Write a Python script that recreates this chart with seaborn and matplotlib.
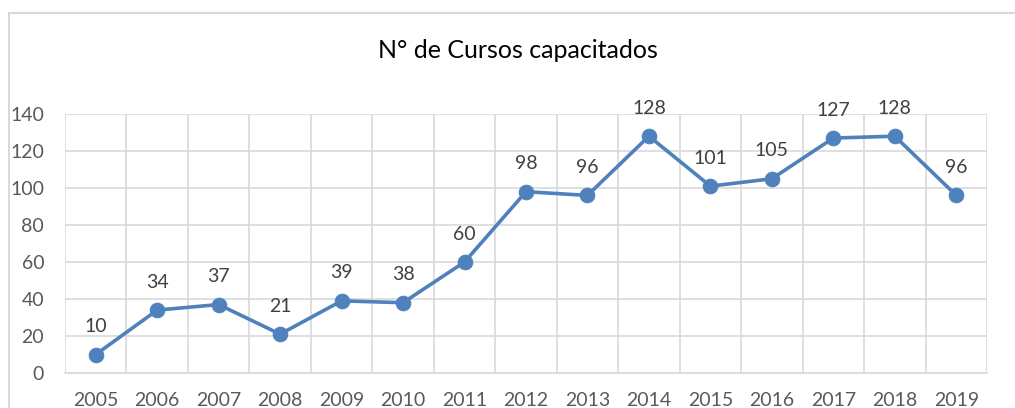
import matplotlib
matplotlib.use("Agg")
import matplotlib.pyplot as plt
import seaborn as sns
import pandas as pd
from matplotlib.patches import Rectangle

years = ["2005", "2006", "2007", "2008", "2009", "2010", "2011", "2012",
         "2013", "2014", "2015", "2016", "2017", "2018", "2019"]
cursos = [10, 34, 37, 21, 39, 38, 60, 98, 96, 128, 101, 105, 127, 128, 96]
title = "N° de Cursos capacitados"

sns.set_theme(style="white")
plt.rcParams['font.family'] = ['Lato', 'DejaVu Sans']

df = pd.DataFrame({"year": years, "cursos": cursos})
df["pos"] = range(len(years))

fig = plt.figure(figsize=(10.15, 4.08), dpi=100)
ax = fig.add_axes([65/1015, 1-373/408, (987-65)/1015, (373-114)/408])

line_color = "#4F81BD"
text_color = "#595959"
grid_color = "#D9D9D9"

sns.lineplot(data=df, x="pos", y="cursos", ax=ax, color=line_color,
             linewidth=2.6, marker="o", markersize=10.5,
             markeredgecolor=line_color, zorder=3)

for i, v in enumerate(cursos):
    ax.annotate(str(v), (i, v), xytext=(0, 14), textcoords="offset points",
                ha="center", va="bottom", fontsize=14, color="#404040")

ax.set_xlim(-0.5, len(years) - 0.5)
ax.set_ylim(0, 140)
ax.set_yticks(range(0, 141, 20))
ax.set_xticks(range(len(years)))
ax.set_xticklabels(years)
ax.set_xticks([i - 0.5 for i in range(len(years) + 1)], minor=True)
ax.grid(False)
ax.grid(axis="y", which="major", color=grid_color, linewidth=1.2)
ax.grid(axis="x", which="minor", color=grid_color, linewidth=1.2)
ax.tick_params(axis="both", which="both", length=0, labelsize=14,
               colors=text_color)
ax.tick_params(axis="x", pad=14)
ax.tick_params(axis="y", pad=15)
ax.set_xlabel("")
ax.set_ylabel("")
for s in ax.spines.values():
    s.set_visible(False)
ax.spines["bottom"].set_visible(True)
ax.spines["bottom"].set_color(grid_color)
ax.spines["bottom"].set_linewidth(1.2)

fig.text(518/1015, 1-50/408, title, ha="center", va="center",
         fontsize=18, color="#000000")

fig.patches.append(Rectangle((9/1015, -0.2), 1.2, (408-13)/408 + 0.2,
                             transform=fig.transFigure, fill=False,
                             edgecolor="#D9D9D9", linewidth=1.5))

fig.savefig("out.png", dpi=100)
